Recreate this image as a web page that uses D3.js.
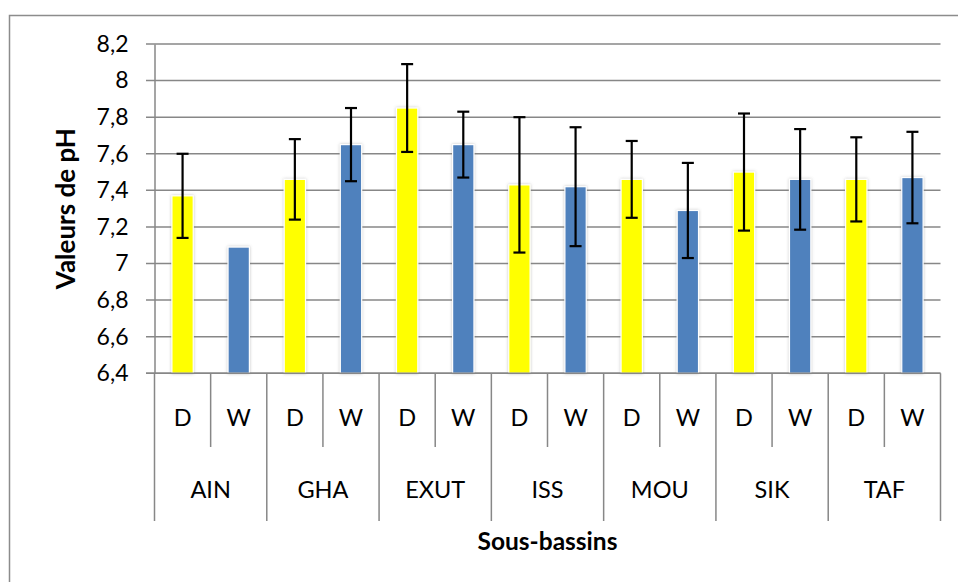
<!DOCTYPE html>
<html>
<head>
<meta charset="utf-8">
<script src="https://cdn.jsdelivr.net/npm/d3@7/dist/d3.min.js"></script>
<style>
  html, body { margin: 0; padding: 0; background: #fff; }
  svg { display: block; font-family: Lato, "Liberation Sans", Arial, sans-serif; }
</style>
</head>
<body>
<svg id="chart" width="958" height="582"></svg>
<script>
// pH by sub-basin, dry (D) and wet (W) season, mean ± standard deviation
const groups = ["AIN", "GHA", "EXUT", "ISS", "MOU", "SIK", "TAF"];
const seasons = ["D", "W"];
const dryMeans = [7.37, 7.46, 7.85, 7.43, 7.46, 7.50, 7.46];
const wetMeans = [7.09, 7.65, 7.65, 7.42, 7.29, 7.46, 7.47];
const dryErr = [0.23, 0.22, 0.24, 0.37, 0.21, 0.32, 0.23];
const wetErr = [null, 0.20, 0.18, 0.325, 0.26, 0.275, 0.25];
const tickValues = [6.4, 6.6, 6.8, 7.0, 7.2, 7.4, 7.6, 7.8, 8.0, 8.2];
const tickLabels = ["6,4", "6,6", "6,8", "7", "7,2", "7,4", "7,6", "7,8", "8", "8,2"];
const seasonColors = { D: "#FFFF00", W: "#4F81BD" };

const rows = [];
groups.forEach((g, i) => {
  rows.push({ group: g, season: "D", value: dryMeans[i], err: dryErr[i] });
  rows.push({ group: g, season: "W", value: wetMeans[i], err: wetErr[i] });
});

const svg = d3.select("#chart");
const fontFamily = "Lato, 'Liberation Sans', Arial, sans-serif";
const plotLeft = 154.5, plotRight = 940.5, plotTop = 44, plotBottom = 373.3;
const gridColor = "#878787";

// chart frame
svg.append("rect")
  .attr("x", 9.5).attr("y", 15.5).attr("width", 980).attr("height", 600)
  .attr("fill", "#fff").attr("stroke", "#8c8c8c").attr("stroke-width", 1.5);

const defs = svg.append("defs");
const f = defs.append("filter").attr("id", "barShadow")
  .attr("x", "-40%").attr("y", "-10%").attr("width", "180%").attr("height", "120%");
f.append("feDropShadow").attr("dx", 0).attr("dy", 0).attr("stdDeviation", 1.6)
  .attr("flood-color", "#7a7a7a").attr("flood-opacity", 0.45);

const x0 = d3.scaleBand().domain(groups).range([plotLeft, plotRight]).padding(0);
const x1 = d3.scaleBand().domain(seasons).range([0, x0.bandwidth()])
  .paddingInner(0.62).paddingOuter(0.31);
const slot = d3.scaleBand().domain(seasons).range([0, x0.bandwidth()]).padding(0);
const y = d3.scaleLinear().domain([6.4, 8.2]).range([plotBottom, plotTop]);

// horizontal gridlines with left tick stubs
svg.append("g").selectAll("line").data(tickValues).join("line")
  .attr("x1", plotLeft - 8.5).attr("x2", plotRight)
  .attr("y1", d => y(d)).attr("y2", d => y(d))
  .attr("stroke", gridColor).attr("stroke-width", 1.5);

// value axis
const yAxis = svg.append("g").attr("transform", `translate(${plotLeft},0)`)
  .call(d3.axisLeft(y).tickValues(tickValues).tickSize(0).tickPadding(26)
    .tickFormat((d, i) => tickLabels[i]));
yAxis.select(".domain").attr("stroke", gridColor).attr("stroke-width", 1.5);
yAxis.selectAll("text").attr("font-size", 23).attr("fill", "#000")
  .attr("font-family", fontFamily);

// bars
svg.append("g").selectAll("rect").data(rows).join("rect")
  .attr("x", d => x0(d.group) + x1(d.season))
  .attr("width", x1.bandwidth())
  .attr("y", d => y(d.value))
  .attr("height", d => y(6.4) - y(d.value))
  .attr("fill", d => seasonColors[d.season])
  .attr("stroke", "#fff").attr("stroke-width", 1.2)
  .attr("filter", "url(#barShadow)");

// error bars
const eb = svg.append("g").selectAll("g").data(rows.filter(d => d.err != null)).join("g")
  .attr("stroke", "#000").attr("stroke-width", 2.2);
const cx = d => x0(d.group) + x1(d.season) + x1.bandwidth() / 2;
eb.append("line").attr("x1", cx).attr("x2", cx)
  .attr("y1", d => y(d.value + d.err)).attr("y2", d => y(d.value - d.err));
eb.append("line").attr("x1", d => cx(d) - 6).attr("x2", d => cx(d) + 6)
  .attr("y1", d => y(d.value + d.err)).attr("y2", d => y(d.value + d.err));
eb.append("line").attr("x1", d => cx(d) - 6).attr("x2", d => cx(d) + 6)
  .attr("y1", d => y(d.value - d.err)).attr("y2", d => y(d.value - d.err));

// category axis: baseline, season dividers, group dividers
const cat = svg.append("g").attr("stroke", gridColor).attr("stroke-width", 1.5);
cat.append("line").attr("x1", plotLeft - 8.5).attr("x2", plotRight)
  .attr("y1", plotBottom).attr("y2", plotBottom);
cat.selectAll(".minor").data(groups).join("line").attr("class", "minor")
  .attr("x1", g => x0(g) + slot("W")).attr("x2", g => x0(g) + slot("W"))
  .attr("y1", plotBottom).attr("y2", 447);
cat.selectAll(".major").data(groups.concat(["end"])).join("line").attr("class", "major")
  .attr("x1", (g, i) => i < groups.length ? x0(g) : plotRight)
  .attr("x2", (g, i) => i < groups.length ? x0(g) : plotRight)
  .attr("y1", plotBottom).attr("y2", 521);

// season labels
svg.append("g").selectAll("text").data(rows).join("text")
  .attr("x", d => x0(d.group) + slot(d.season) + slot.bandwidth() / 2)
  .attr("y", 425.5)
  .attr("text-anchor", "middle").attr("font-size", 23.5).attr("fill", "#000")
  .text(d => d.season);

// group labels
svg.append("g").selectAll("text").data(groups).join("text")
  .attr("x", g => x0(g) + x0.bandwidth() / 2)
  .attr("y", 497.5)
  .attr("text-anchor", "middle").attr("font-size", 23.5).attr("fill", "#000")
  .text(g => g);

// axis titles
svg.append("text")
  .attr("x", (plotLeft + plotRight) / 2).attr("y", 550)
  .attr("text-anchor", "middle").attr("font-size", 24.5).attr("font-weight", "bold")
  .text("Sous-bassins");
svg.append("text")
  .attr("transform", `translate(75,${(plotTop + plotBottom) / 2}) rotate(-90)`)
  .attr("text-anchor", "middle").attr("font-size", 26).attr("font-weight", "bold")
  .text("Valeurs de pH");
</script>
</body>
</html>
